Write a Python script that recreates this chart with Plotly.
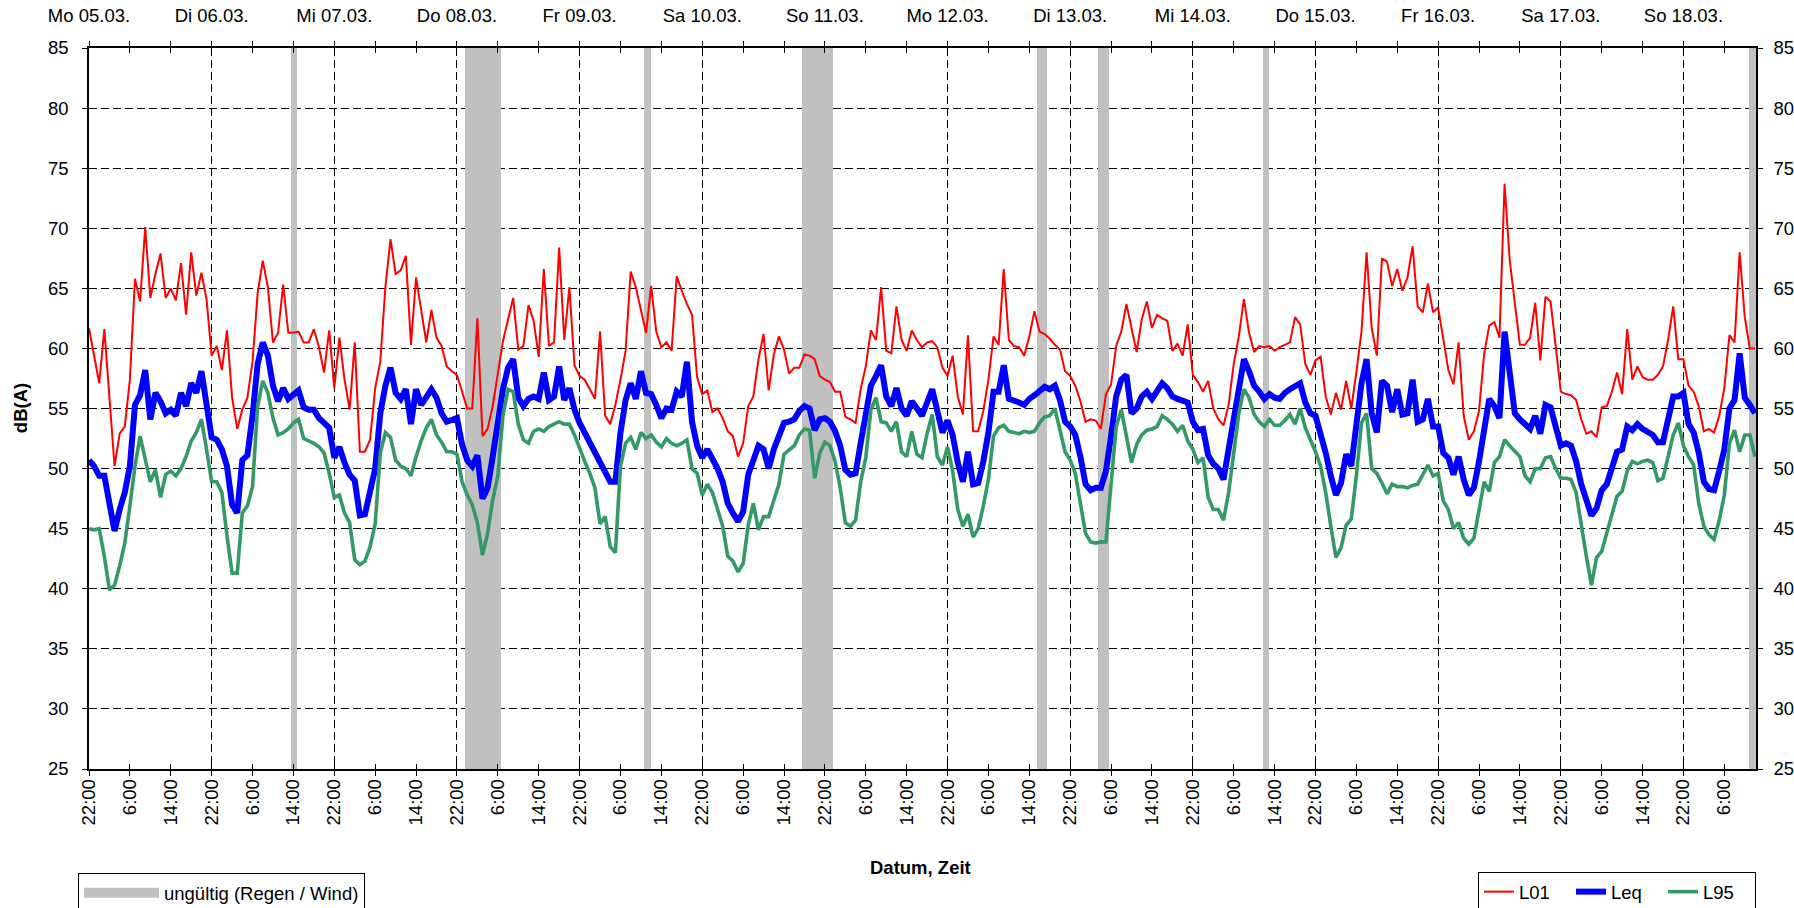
import pandas as pd
import plotly.graph_objects as go

# ---------------- data ----------------
start = pd.Timestamp("2012-03-05 22:00")
time = pd.date_range(start, periods=327, freq="h")
x_end = pd.Timestamp("2012-03-19 12:12")

L01 = [
    61.7, 59.5, 57.1, 61.6, 55.9, 50.2, 52.9, 53.5, 57.4, 65.8,
    63.9, 70.1, 64.2, 66.2, 67.9, 64.2, 65.0, 64.0, 67.1, 62.8,
    68.0, 64.4, 66.3, 64.1, 59.4, 60.2, 58.2, 61.5, 55.9, 53.3,
    54.9, 55.9, 58.9, 64.6, 67.3, 65.1, 60.5, 61.3, 65.3, 61.3,
    61.3, 61.4, 60.5, 60.5, 61.6, 60.1, 58.0, 61.5, 56.7, 60.9,
    57.4, 54.9, 60.5, 51.4, 51.4, 52.4, 56.7, 58.9, 65.1, 69.1,
    66.2, 66.5, 67.7, 60.3, 65.9, 63.2, 60.5, 63.2, 60.9, 60.2,
    58.5, 58.1, 57.8, 56.4, 55.0, 55.0, 62.5, 52.7, 53.3, 55.2,
    58.0, 60.6, 62.4, 64.2, 59.9, 60.2, 63.6, 62.3, 59.3, 66.6,
    60.2, 60.5, 68.4, 60.7, 65.1, 58.6, 57.7, 57.4, 56.6, 55.8,
    61.4, 54.4, 53.7, 55.3, 57.4, 59.8, 66.4, 65.1, 63.2, 61.3,
    65.2, 61.4, 60.1, 60.5, 59.8, 66.0, 64.8, 63.7, 62.8, 57.6,
    56.2, 56.5, 54.7, 55.0, 54.2, 53.1, 52.7, 51.0, 52.1, 55.2,
    56.0, 59.1, 61.2, 56.5, 59.5, 61.0, 59.9, 57.9, 58.4, 58.4,
    59.5, 59.4, 59.1, 57.7, 57.4, 57.2, 56.4, 56.4, 54.3, 54.1,
    53.8, 56.6, 58.5, 61.5, 60.7, 65.1, 59.8, 59.6, 63.5, 60.7,
    59.8, 61.5, 60.7, 60.1, 60.5, 60.6, 60.1, 58.4, 57.7, 59.4,
    56.0, 54.5, 61.1, 53.1, 53.1, 54.8, 57.4, 61.0, 60.3, 66.6,
    60.7, 60.2, 60.1, 59.4, 61.0, 63.1, 61.4, 61.2, 60.8, 60.3,
    59.9, 58.1, 57.7, 56.9, 55.6, 53.9, 54.1, 54.0, 53.3, 56.2,
    57.0, 60.2, 61.4, 63.7, 61.7, 59.7, 62.4, 63.9, 61.7, 62.8,
    62.5, 62.3, 59.8, 60.4, 59.4, 62.0, 57.8, 57.2, 56.4, 57.3,
    55.0, 54.1, 53.6, 55.3, 58.7, 61.0, 64.1, 61.3, 59.7, 60.2,
    60.1, 60.2, 59.8, 60.1, 60.3, 60.5, 62.6, 62.0, 58.7, 57.8,
    59.0, 59.3, 56.0, 54.5, 56.3, 54.9, 57.3, 55.0, 58.0, 61.4,
    68.0, 61.7, 59.4, 67.5, 67.2, 65.2, 66.6, 64.8, 65.9, 68.5,
    63.5, 63.0, 65.4, 63.0, 63.4, 60.9, 58.2, 57.0, 60.5, 54.4,
    52.4, 53.1, 54.8, 59.5, 61.9, 62.2, 60.9, 73.7, 67.4, 63.8,
    60.3, 60.3, 60.9, 63.8, 59.0, 64.3, 63.9, 60.2, 56.4, 56.2,
    56.1, 55.7, 54.1, 52.9, 53.1, 52.6, 55.1, 55.2, 56.4, 58.0,
    56.2, 61.6, 57.4, 58.5, 57.6, 57.4, 57.4, 57.8, 58.5, 60.7,
    63.5, 59.1, 59.1, 56.9, 56.4, 55.2, 53.1, 53.3, 53.0, 54.4,
    56.7, 61.1, 60.5, 68.0, 62.6, 60.0, 60.0,
]

Leq = [
    50.7, 50.2, 49.4, 49.4, 47.1, 44.8, 46.6, 48.0, 50.2, 55.3,
    56.1, 58.2, 54.1, 56.3, 55.6, 54.6, 54.9, 54.4, 56.3, 55.2,
    57.1, 56.3, 58.1, 55.7, 52.6, 52.4, 51.6, 50.2, 47.0, 46.3,
    50.7, 51.1, 54.4, 58.7, 60.5, 59.4, 56.9, 55.6, 56.7, 55.8,
    56.2, 56.5, 55.1, 54.9, 54.9, 54.2, 53.8, 53.4, 50.9, 51.8,
    50.5, 49.5, 49.0, 46.1, 46.2, 48.0, 50.0, 54.6, 56.9, 58.4,
    56.3, 55.8, 56.6, 53.7, 56.6, 55.3, 56.0, 56.6, 55.9, 54.6,
    53.9, 54.1, 54.2, 52.0, 50.7, 50.2, 51.1, 47.5, 48.4, 51.0,
    53.8, 56.6, 58.4, 59.1, 55.9, 55.2, 55.8, 56.0, 55.8, 58.0,
    55.7, 56.0, 58.5, 55.7, 56.7, 54.9, 53.8, 53.0, 52.1, 51.2,
    50.6, 49.6, 48.9, 48.9, 53.0, 55.7, 57.1, 55.8, 58.1, 56.3,
    56.2, 55.3, 54.2, 55.0, 54.9, 56.4, 56.0, 58.9, 53.9, 51.9,
    50.9, 51.6, 50.9, 50.0, 48.9, 47.1, 46.3, 45.6, 46.4, 49.5,
    50.7, 51.9, 51.6, 50.0, 51.6, 52.7, 53.8, 53.9, 54.1, 54.8,
    55.2, 55.0, 53.2, 54.1, 54.2, 53.9, 53.1, 51.9, 49.9, 49.5,
    49.6, 52.1, 54.6, 56.9, 57.7, 58.6, 56.0, 55.2, 56.7, 55.0,
    54.4, 55.6, 55.0, 54.4, 55.5, 56.6, 54.8, 53.0, 54.0, 52.8,
    50.5, 48.9, 51.4, 48.7, 48.8, 50.6, 53.0, 56.4, 56.4, 58.6,
    55.8, 55.7, 55.5, 55.3, 55.8, 56.1, 56.4, 56.8, 56.6, 56.9,
    55.7, 53.9, 53.5, 52.8, 51.0, 48.7, 48.2, 48.4, 48.4, 49.8,
    52.7, 56.0, 57.4, 57.8, 54.6, 55.0, 56.0, 56.4, 55.8, 56.4,
    57.1, 56.7, 56.0, 55.8, 55.7, 55.5, 53.9, 53.2, 53.3, 51.1,
    50.4, 50.0, 49.1, 51.6, 54.8, 57.1, 59.1, 58.1, 56.9, 56.4,
    55.8, 56.2, 55.9, 55.8, 56.3, 56.6, 56.8, 57.1, 55.5, 54.6,
    54.4, 53.0, 51.3, 49.4, 47.8, 48.8, 51.2, 50.2, 53.5, 57.1,
    59.1, 54.6, 53.0, 57.3, 56.9, 54.7, 56.6, 54.5, 54.6, 57.4,
    53.9, 54.1, 55.8, 53.5, 53.5, 51.3, 50.9, 49.5, 51.0, 49.1,
    47.8, 48.4, 50.6, 52.9, 55.8, 55.2, 54.2, 61.4, 58.0, 54.6,
    54.1, 53.7, 53.3, 54.4, 52.9, 55.3, 55.1, 53.5, 51.9, 52.1,
    51.9, 50.6, 48.7, 47.4, 46.1, 46.7, 48.2, 48.7, 49.9, 51.4,
    51.6, 53.5, 53.2, 53.7, 53.3, 53.1, 52.8, 52.2, 52.2, 54.1,
    56.0, 56.0, 56.3, 53.7, 53.0, 51.3, 48.9, 48.3, 48.2, 49.8,
    51.6, 55.0, 55.7, 59.6, 55.9, 55.3, 54.6,
]

L95 = [
    45.0, 44.9, 45.0, 42.7, 39.9, 40.3, 41.9, 43.8, 46.9, 50.2,
    52.7, 50.7, 48.9, 49.9, 47.6, 49.5, 49.8, 49.4, 50.0, 51.0,
    52.3, 53.0, 54.1, 51.6, 48.9, 48.9, 48.0, 44.4, 41.3, 41.3,
    46.3, 46.9, 48.5, 55.2, 57.3, 56.3, 54.2, 52.8, 53.0, 53.3,
    53.8, 54.1, 52.5, 52.3, 52.1, 51.8, 51.3, 49.6, 47.6, 47.8,
    46.3, 45.5, 42.4, 42.0, 42.3, 43.5, 45.4, 51.3, 53.0, 52.6,
    50.7, 50.2, 50.0, 49.4, 51.0, 52.3, 53.4, 54.1, 52.8, 52.2,
    51.4, 51.4, 51.2, 48.9, 47.8, 47.0, 45.5, 42.8, 44.6, 47.4,
    49.4, 54.4, 56.6, 56.4, 53.7, 52.4, 52.1, 53.1, 53.3, 53.1,
    53.5, 53.7, 53.9, 53.7, 53.7, 52.8, 51.6, 50.6, 49.6, 48.4,
    45.4, 46.0, 43.5, 43.0, 50.2, 52.1, 52.6, 51.6, 53.0, 52.5,
    52.8, 52.2, 51.8, 52.5, 52.1, 51.9, 52.1, 52.4, 50.0, 49.6,
    47.8, 48.7, 48.0, 46.7, 45.2, 42.7, 42.3, 41.4, 42.1, 45.3,
    47.1, 44.9, 46.0, 46.0, 47.4, 48.7, 51.2, 51.6, 51.9, 52.8,
    53.3, 53.2, 49.2, 51.3, 52.2, 51.9, 50.6, 48.4, 45.5, 45.2,
    45.7, 48.9, 50.9, 54.9, 55.9, 53.9, 53.8, 53.1, 53.9, 51.4,
    51.0, 53.1, 51.2, 50.9, 52.9, 54.5, 51.0, 50.3, 51.8, 49.8,
    46.6, 45.2, 46.2, 44.3, 45.0, 46.9, 49.1, 52.7, 53.4, 53.6,
    53.1, 53.0, 52.9, 53.1, 53.0, 53.1, 53.8, 54.3, 54.4, 55.0,
    53.2, 51.4, 50.7, 49.6, 47.1, 44.6, 43.9, 43.8, 43.9, 43.9,
    48.7, 53.5, 54.9, 52.7, 50.5, 52.0, 52.8, 53.2, 53.3, 53.5,
    54.4, 54.1, 53.7, 53.1, 53.6, 52.3, 51.6, 50.5, 50.9, 47.6,
    46.6, 46.6, 45.7, 48.0, 51.3, 54.6, 56.6, 55.9, 54.5, 53.9,
    53.5, 54.1, 53.6, 53.6, 54.0, 54.5, 53.7, 55.0, 53.4, 52.4,
    51.4, 50.2, 48.0, 45.2, 42.6, 43.4, 45.3, 45.8, 49.4, 53.8,
    54.6, 50.0, 49.6, 48.8, 47.9, 48.7, 48.5, 48.5, 48.4, 48.6,
    48.7, 49.5, 50.3, 49.4, 49.6, 47.3, 46.6, 45.0, 45.5, 44.2,
    43.7, 44.2, 46.4, 48.9, 48.1, 50.5, 51.0, 52.4, 51.9, 51.4,
    51.0, 49.4, 48.9, 50.0, 50.0, 50.9, 51.0, 50.0, 49.2, 49.2,
    49.1, 48.0, 45.2, 42.7, 40.3, 42.6, 43.1, 44.6, 46.3, 47.7,
    48.1, 49.8, 50.6, 50.4, 50.6, 50.7, 50.5, 49.0, 49.2, 51.0,
    52.8, 53.8, 51.9, 51.0, 50.3, 47.1, 45.2, 44.5, 44.1, 45.7,
    47.8, 52.1, 53.2, 51.4, 52.8, 52.8, 51.0,
]

# invalid periods (rain / wind)
band_start = ["2012-03-07 13:30", "2012-03-08 23:35", "2012-03-10 10:35", "2012-03-11 17:35",
              "2012-03-13 15:35", "2012-03-14 03:30", "2012-03-15 11:40", "2012-03-19 10:50"]
band_end = ["2012-03-07 14:45", "2012-03-09 06:40", "2012-03-10 11:55", "2012-03-11 23:35",
            "2012-03-13 17:30", "2012-03-14 05:40", "2012-03-15 12:50", "2012-03-19 12:12"]

day_labels = ["Mo 05.03.", "Di 06.03.", "Mi 07.03.", "Do 08.03.", "Fr 09.03.", "Sa 10.03.",
              "So 11.03.", "Mo 12.03.", "Di 13.03.", "Mi 14.03.", "Do 15.03.", "Fr 16.03.",
              "Sa 17.03.", "So 18.03."]
hour_labels = ["22:00", "6:00", "14:00"]

for arr in (L01, Leq, L95):
    assert len(arr) == len(time), len(arr)

# ---------------- derived axis values ----------------
tick8 = pd.date_range(start, periods=41, freq="8h")
tick8_text = [hour_labels[i % 3] for i in range(len(tick8))]
tick24 = pd.date_range(start, periods=len(day_labels), freq="24h")

bs = pd.to_datetime(band_start)
be = pd.to_datetime(band_end)
band_mid = bs + (be - bs) / 2
band_width_ms = [(e - s).total_seconds() * 1000 for s, e in zip(bs, be)]

FONT = "Arial, Liberation Sans, sans-serif"
FS = 18.5
GRID_DASH = "8px,4px"
BAND_COLOR = "#C0C0C0"

fig = go.Figure()

fig.add_trace(go.Bar(
    x=band_mid, y=[60] * len(band_mid), base=[25] * len(band_mid), width=band_width_ms,
    marker=dict(color=BAND_COLOR, line=dict(width=0)),
    name="ungültig (Regen / Wind)", showlegend=False, hoverinfo="skip",
))
# legend entry for the invalid periods (wide grey swatch)
fig.add_trace(go.Scatter(x=[None], y=[None], mode="lines", name="ungültig (Regen / Wind)",
                         line=dict(color=BAND_COLOR, width=10), legend="legend2"))

fig.add_trace(go.Scatter(x=time, y=L01, mode="lines", name="L01",
                         line=dict(color="#FF0000", width=2), legend="legend"))
fig.add_trace(go.Scatter(x=time, y=Leq, mode="lines", name="Leq",
                         line=dict(color="#0000FF", width=6), legend="legend"))
fig.add_trace(go.Scatter(x=time, y=L95, mode="lines", name="L95",
                         line=dict(color="#339966", width=3.6), legend="legend"))

# helper traces so the auxiliary axes get drawn
for xa, ya in (("x2", "y"), ("x3", "y"), ("x4", "y"), ("x", "y2")):
    fig.add_trace(go.Scatter(x=[start], y=[None], xaxis=xa, yaxis=ya, mode="lines",
                             showlegend=False, hoverinfo="skip"))

xr = [start, x_end]
common_x = dict(type="date", range=xr, zeroline=False, tickcolor="black", tickwidth=1,
                automargin=False)

fig.update_layout(
    width=1794, height=908,
    margin=dict(l=89, r=38, t=48, b=139, autoexpand=False),
    paper_bgcolor="white", plot_bgcolor="white",
    font=dict(family=FONT, size=FS, color="black"),
    bargap=0, barmode="overlay",
    hovermode=False,
    xaxis=dict(**common_x, tickmode="array", tickvals=tick8, ticktext=tick8_text,
               tickangle=-90, ticks="outside", ticklen=5, showline=True, linecolor="black",
               linewidth=1.5, showgrid=False, side="bottom", anchor="y",
               ticklabelstandoff=-4, tickfont=dict(size=FS)),
    xaxis2=dict(**common_x, overlaying="x", side="top", anchor="y", tickmode="array",
                tickvals=tick24, ticktext=day_labels, tickangle=0, ticks="outside", ticklen=5,
                showline=True, linecolor="black", linewidth=1.5,
                showgrid=True, gridcolor="black", gridwidth=1, griddash=GRID_DASH,
                minor=dict(ticks="outside", ticklen=5, tickcolor="black", dtick=8 * 3600 * 1000,
                           tick0=start, showgrid=False),
                ticklabelstandoff=12, tickfont=dict(size=FS)),
    xaxis3=dict(**common_x, overlaying="x", side="bottom", anchor="y", tickmode="array",
                tickvals=tick8, ticks="inside", ticklen=5, showticklabels=False,
                showgrid=False, showline=False),
    xaxis4=dict(**common_x, overlaying="x", side="top", anchor="y", tickmode="array",
                tickvals=tick8, ticks="inside", ticklen=5, showticklabels=False,
                showgrid=False, showline=False),
    yaxis=dict(range=[25, 85], tick0=25, dtick=5, ticks="outside", ticklen=5, tickcolor="black",
               showline=True, linecolor="black", linewidth=1.5, zeroline=False,
               showgrid=True, gridcolor="black", gridwidth=1, griddash=GRID_DASH,
               ticklabelstandoff=10, tickfont=dict(size=FS), anchor="x", automargin=False),
    yaxis2=dict(range=[25, 85], tick0=25, dtick=5, ticks="outside", ticklen=5, tickcolor="black",
                showline=True, linecolor="black", linewidth=1.5, zeroline=False, showgrid=False,
                overlaying="y", side="right", anchor="x", ticklabelstandoff=7,
                tickfont=dict(size=FS), automargin=False),
    legend=dict(orientation="h", x=1.0, xanchor="right", y=-0.143, yanchor="top",
                bordercolor="black", borderwidth=1, bgcolor="white",
                font=dict(family=FONT, size=FS), itemwidth=30, tracegroupgap=0,
                entrywidth=47, entrywidthmode="pixels"),
    legend2=dict(orientation="h", x=-0.0066, xanchor="left", y=-0.1445, yanchor="top",
                 bordercolor="black", borderwidth=1, bgcolor="white", itemwidth=75,
                 font=dict(family=FONT, size=FS)),
    annotations=[
        dict(text="<b>dB(A)</b>", xref="paper", yref="paper", x=-0.041, y=0.5,
             xanchor="center", yanchor="middle", textangle=-90, showarrow=False,
             font=dict(family=FONT, size=FS)),
        dict(text="<b>Datum, Zeit</b>", xref="paper", yref="paper", x=0.499, y=-0.137,
             xanchor="center", yanchor="middle", showarrow=False,
             font=dict(family=FONT, size=FS)),
    ],
)

fig.write_html(
    "out.html",
    config={"displayModeBar": False},
    post_script="document.body.style.margin='0px';document.body.style.overflow='hidden';",
)
